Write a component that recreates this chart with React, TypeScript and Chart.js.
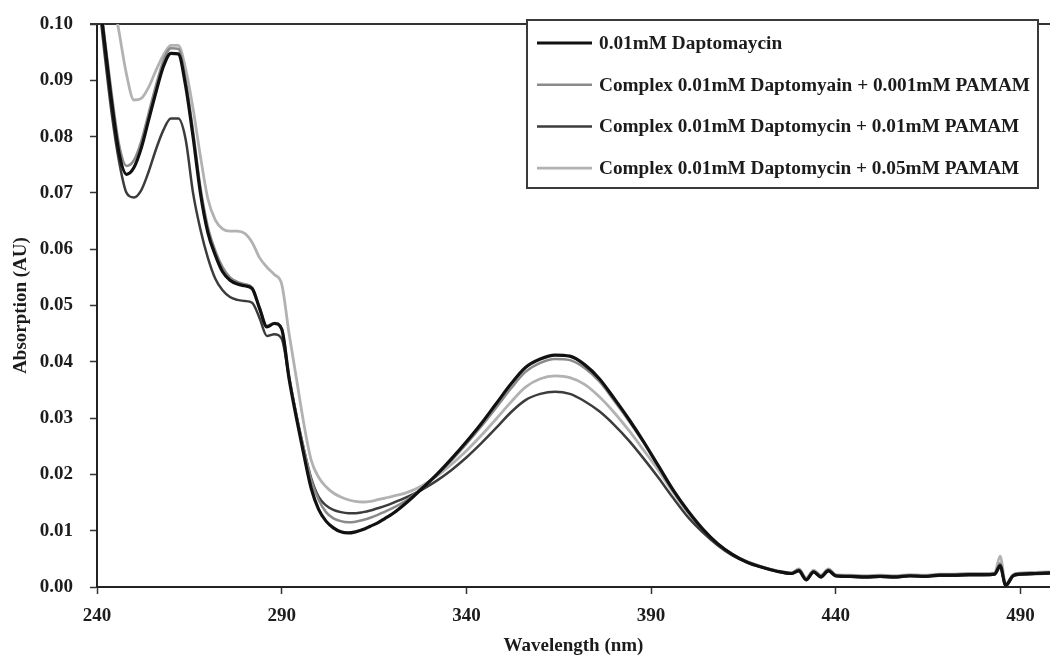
import React, { useEffect, useRef } from "react";
import { Chart, registerables } from "chart.js";

Chart.register(...registerables);

// Wavelength (nm)
const wavelengths = [
  240, 242, 244, 246, 248, 250, 252, 254, 256, 258, 260, 262, 264, 266, 268, 270, 272, 274, 276, 278,
  280, 282, 284, 286, 288, 290, 292, 294, 296, 298, 300, 302, 304, 306, 308, 310, 312, 314, 316, 318, 320,
  324, 328, 332, 336, 340, 344, 348, 352, 356, 360, 364, 368, 372, 376, 380, 384, 388, 392, 396, 400,
  404, 408, 412, 416, 420, 424, 428,
  430, 432, 434, 436, 438, 440,
  444, 448, 452, 456, 460, 464, 468, 472, 476, 480,
  483, 484.5, 486, 488, 490, 494, 498,
];

// 0.01mM Daptomaycin
const daptomycin = [
  0.108, 0.097, 0.086, 0.077, 0.0733, 0.0745, 0.078, 0.083, 0.088, 0.0925, 0.0948, 0.0947, 0.089, 0.08, 0.07, 0.063, 0.059, 0.056, 0.0545, 0.0538,
  0.0535, 0.053, 0.0495, 0.0462, 0.0468, 0.0458, 0.037, 0.03, 0.0235, 0.0175, 0.0138, 0.0117, 0.0105, 0.0098, 0.0096, 0.0098, 0.0102, 0.0108, 0.0114, 0.0122, 0.013,
  0.0151, 0.0175, 0.02, 0.0228, 0.0258, 0.029, 0.0325, 0.036, 0.039, 0.0405, 0.0412, 0.041, 0.0395, 0.037, 0.0335, 0.0298, 0.0258, 0.0215, 0.0172, 0.0135,
  0.0103, 0.0077, 0.0058, 0.0044, 0.0035, 0.0028, 0.0024,
  0.0029, 0.0013, 0.0027, 0.0018, 0.0029, 0.002,
  0.0019, 0.0018, 0.0019, 0.0018, 0.002, 0.0019, 0.0021, 0.0021, 0.0022, 0.0022,
  0.0023, 0.0038, 0.0003, 0.002, 0.0023, 0.0024, 0.0025,
];

// Complex 0.01mM Daptomyain + 0.001mM PAMAM
const complex0001 = [
  0.109, 0.098, 0.0875, 0.0785, 0.0748, 0.0758, 0.0792, 0.0842, 0.0892, 0.0935, 0.0957, 0.0956, 0.09, 0.081, 0.071, 0.064, 0.0598, 0.0568, 0.055, 0.0542,
  0.0538, 0.0532, 0.0497, 0.0464, 0.0469, 0.0459, 0.0375, 0.0305, 0.0245, 0.019, 0.0155, 0.0133, 0.0122, 0.0117, 0.0115, 0.0116, 0.0119, 0.0123, 0.0128, 0.0134, 0.014,
  0.0155, 0.0176, 0.0199, 0.0225, 0.0254, 0.0285, 0.0318, 0.0352, 0.0382, 0.0398, 0.0405, 0.0403, 0.0389, 0.0365, 0.0331, 0.0295, 0.0256, 0.0213, 0.0171, 0.0134,
  0.0103, 0.0077, 0.0058, 0.0045, 0.0036, 0.0029, 0.0025,
  0.0031, 0.0015, 0.0028, 0.002, 0.0031, 0.0021,
  0.002, 0.0019, 0.002, 0.0019, 0.0021, 0.002, 0.0022, 0.0022, 0.0023, 0.0023,
  0.0024, 0.0042, 0.0004, 0.0021, 0.0024, 0.0025, 0.0026,
];

// Complex 0.01mM Daptomycin + 0.01mM PAMAM
const complex001 = [
  0.107, 0.095, 0.084, 0.0755, 0.07, 0.0692, 0.0705, 0.0738, 0.0778, 0.0812, 0.0832, 0.0832, 0.0795, 0.07, 0.0635, 0.0585, 0.0548, 0.0527, 0.0515, 0.051,
  0.0508, 0.0505, 0.0478, 0.0446, 0.0449, 0.0441, 0.0372, 0.0305, 0.0245, 0.0193, 0.016, 0.0145, 0.0137, 0.0133, 0.0131, 0.0131, 0.0133, 0.0136, 0.014, 0.0144, 0.0149,
  0.016, 0.0173, 0.0189, 0.0208, 0.023, 0.0255, 0.0282, 0.031, 0.0332, 0.0343, 0.0347, 0.0343, 0.033, 0.0312, 0.0288, 0.026, 0.0228, 0.0194, 0.0158, 0.0124,
  0.0097, 0.0074, 0.0056, 0.0044, 0.0035, 0.0028, 0.0024,
  0.0028, 0.0012, 0.0026, 0.0017, 0.0028, 0.0019,
  0.0018, 0.0017, 0.0018, 0.0017, 0.0019, 0.0018, 0.002, 0.002, 0.0021, 0.0021,
  0.0022, 0.0035, 0.0001, 0.0019, 0.0022, 0.0023, 0.0024,
];

// Complex 0.01mM Daptomycin + 0.05mM PAMAM
const complex005 = [
  0.125, 0.115, 0.106, 0.0985, 0.091, 0.0865, 0.0868, 0.0888, 0.0918, 0.0945, 0.0962, 0.0962, 0.092, 0.085, 0.0765, 0.069, 0.0652, 0.0636, 0.0632, 0.0632,
  0.0628, 0.0612, 0.0585, 0.0568, 0.0555, 0.0538, 0.045, 0.037, 0.029, 0.0225, 0.0195, 0.0178, 0.0167, 0.016, 0.0155, 0.0152, 0.0151, 0.0152, 0.0155, 0.0158, 0.0161,
  0.0168, 0.018, 0.0197, 0.0218, 0.0242, 0.0269, 0.0298, 0.0328, 0.0355, 0.037, 0.0375, 0.0372, 0.036, 0.0338, 0.031, 0.0278, 0.0243, 0.0207, 0.0168, 0.0132,
  0.0102, 0.0077, 0.0058, 0.0045, 0.0036, 0.0029, 0.0025,
  0.0032, 0.0016, 0.003, 0.0021, 0.0032, 0.0022,
  0.0021, 0.002, 0.0021, 0.002, 0.0022, 0.0021, 0.0023, 0.0023, 0.0024, 0.0024,
  0.0025, 0.0055, 0.0005, 0.0022, 0.0025, 0.0026, 0.0027,
];

const seriesLabels = [
  "0.01mM Daptomaycin",
  "Complex 0.01mM Daptomyain + 0.001mM PAMAM",
  "Complex 0.01mM Daptomycin + 0.01mM PAMAM",
  "Complex 0.01mM Daptomycin + 0.05mM PAMAM",
];

const xTickValues = [240, 290, 340, 390, 440, 490];
const yTickValues = [0, 0.01, 0.02, 0.03, 0.04, 0.05, 0.06, 0.07, 0.08, 0.09, 0.1];
const xTitle = "Wavelength (nm)";
const yTitle = "Absorption (AU)";

const FONT = "'Liberation Serif', 'Times New Roman', serif";
const TEXT = "#1c1c1c";

const toPoints = (ys: number[]) => wavelengths.map((x, i) => ({ x, y: ys[i] }));

const topFrame = {
  id: "topFrame",
  beforeDatasetsDraw(chart: any) {
    const { ctx, chartArea } = chart;
    ctx.save();
    ctx.strokeStyle = "#333";
    ctx.lineWidth = 2;
    ctx.beginPath();
    ctx.moveTo(chartArea.left - 7, chartArea.top);
    ctx.lineTo(chartArea.right, chartArea.top);
    ctx.stroke();
    ctx.restore();
  },
};

const boxLegend = {
  id: "boxLegend",
  afterDraw(chart: any) {
    const { ctx, chartArea } = chart;
    const ds = chart.data.datasets;
    ctx.save();
    ctx.font = `bold 19.3px ${FONT}`;
    const textW = Math.max(...ds.map((d: any) => ctx.measureText(d.label).width));
    const sample = 55, padL = 10, gap = 7, padR = 8;
    const w = padL + sample + gap + textW + padR;
    const right = chartArea.right - 12;
    const left = right - w;
    const top = chartArea.top - 4;
    const h = 168;
    ctx.fillStyle = "#fff";
    ctx.fillRect(left, top, w, h);
    ctx.strokeStyle = "#3a3a3a";
    ctx.lineWidth = 2;
    ctx.strokeRect(left, top, w, h);
    ds.forEach((d: any, i: number) => {
      const y = top + 23 + i * 41.7;
      ctx.strokeStyle = d.borderColor;
      ctx.lineWidth = d.borderWidth;
      ctx.beginPath();
      ctx.moveTo(left + padL, y);
      ctx.lineTo(left + padL + sample, y);
      ctx.stroke();
      ctx.fillStyle = TEXT;
      ctx.textBaseline = "middle";
      ctx.textAlign = "left";
      ctx.fillText(d.label, left + padL + sample + gap, y + 1);
    });
    ctx.restore();
  },
};

export default function App() {
  const ref = useRef<HTMLCanvasElement | null>(null);

  useEffect(() => {
    if (!ref.current) return;
    const colors = ["#111111", "#8a8a8a", "#3c3c3c", "#b2b2b2"];
    const widths = [3.2, 2.5, 2.5, 2.8];
    const series = [daptomycin, complex0001, complex001, complex005];
    const chart = new Chart(ref.current, {
      type: "line",
      data: {
        datasets: series.map((s, i) => ({
          label: seriesLabels[i],
          data: toPoints(s),
          borderColor: colors[i],
          backgroundColor: colors[i],
          borderWidth: widths[i],
          pointRadius: 0,
          cubicInterpolationMode: "monotone" as const,
          fill: false,
        })),
      },
      options: {
        responsive: false,
        animation: false,
        devicePixelRatio: 1,
        layout: { padding: { top: 24, right: 0, left: 0, bottom: 0 } },
        plugins: { legend: { display: false }, tooltip: { enabled: false } },
        scales: {
          x: {
            type: "linear",
            min: 240,
            max: 498,
            afterBuildTicks: (scale: any) => {
              scale.ticks = xTickValues.map((v) => ({ value: v }));
            },
            afterFit: (scale: any) => {
              scale.height = 70;
              scale.paddingLeft = 0;
              scale.paddingRight = 0;
            },
            ticks: {
              color: TEXT,
              padding: 11,
              maxRotation: 0,
              autoSkip: false,
              font: { family: FONT, size: 19, weight: "bold" },
              callback: (v: any) => String(v),
            },
            grid: { drawOnChartArea: false, tickLength: 7, tickColor: "#333", tickWidth: 1.5 },
            border: { display: true, color: "#222", width: 2 },
            title: {
              display: true,
              text: xTitle,
              color: TEXT,
              padding: { top: 0, bottom: 0 },
              font: { family: FONT, size: 19, weight: "bold" },
            },
          },
          y: {
            type: "linear",
            min: 0,
            max: 0.1,
            afterBuildTicks: (scale: any) => {
              scale.ticks = yTickValues.map((v) => ({ value: v }));
            },
            afterFit: (scale: any) => {
              scale.width = 97;
              scale.paddingTop = 0;
              scale.paddingBottom = 0;
            },
            ticks: {
              color: TEXT,
              padding: 17,
              autoSkip: false,
              font: { family: FONT, size: 19, weight: "bold" },
              callback: (v: any) => Number(v).toFixed(2),
            },
            grid: { drawOnChartArea: false, tickLength: 7, tickColor: "#333", tickWidth: 1.5 },
            border: { display: true, color: "#222", width: 2 },
            title: {
              display: true,
              text: yTitle,
              color: TEXT,
              padding: { top: 10, bottom: 0 },
              font: { family: FONT, size: 19, weight: "bold" },
            },
          },
        },
      },
      plugins: [topFrame, boxLegend],
    });
    return () => chart.destroy();
  }, []);

  return (
    <div style={{ position: "absolute", left: 0, top: 0, width: 1050, height: 657, background: "#fff" }}>
      <canvas ref={ref} width={1050} height={657} style={{ width: 1050, height: 657, display: "block" }} />
    </div>
  );
}
